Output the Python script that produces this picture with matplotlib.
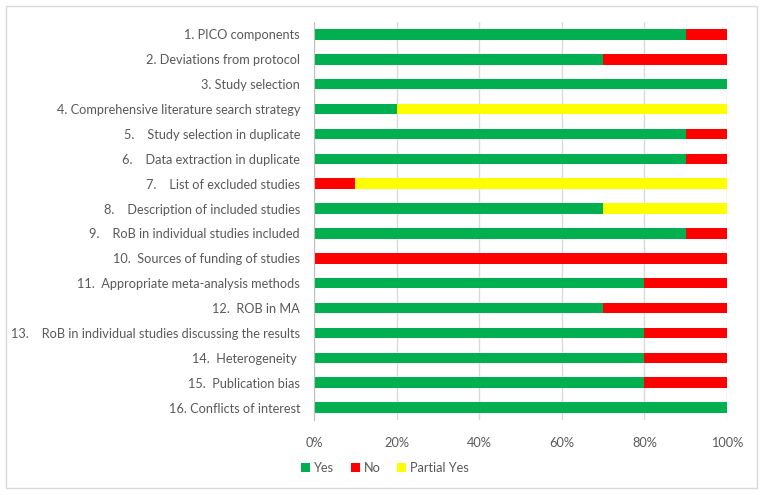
import matplotlib.pyplot as plt
import numpy as np
from matplotlib.patches import Rectangle

plt.rcParams['font.family'] = ['Lato', 'DejaVu Sans']

items = [
    '1. PICO components',
    '2. Deviations from protocol',
    '3. Study selection',
    '4. Comprehensive literature search strategy',
    '5.    Study selection in duplicate',
    '6.    Data extraction in duplicate',
    '7.    List of excluded studies',
    '8.    Description of included studies',
    '9.    RoB in individual studies included',
    '10.  Sources of funding of studies',
    '11.  Appropriate meta-analysis methods',
    '12.  ROB in MA',
    '13.    RoB in individual studies discussing the results',
    '14.  Heterogeneity ',
    '15.  Publication bias',
    '16. Conflicts of interest',
]
yes = [90, 70, 100, 20, 90, 90, 0, 70, 90, 0, 80, 70, 80, 80, 80, 100]
no = [10, 30, 0, 0, 10, 10, 10, 0, 10, 100, 20, 30, 20, 20, 20, 0]
partial = [0, 0, 0, 80, 0, 0, 90, 30, 0, 0, 0, 0, 0, 0, 0, 0]

GREEN = '#00B050'
RED = '#FF0000'
YELLOW = '#FFFF00'
TXT = '#595959'
FS = 9.2

fig = plt.figure(figsize=(7.65, 4.95), dpi=100)
ax = fig.add_axes([314 / 765, 1 - 420 / 495, (727 - 314) / 765, (420 - 22) / 495])

y = np.arange(len(items))
yes = np.array(yes)
no = np.array(no)
partial = np.array(partial)
h = 0.42
ax.barh(y, yes, height=h, color=GREEN, label='Yes', zorder=3)
ax.barh(y, no, left=yes, height=h, color=RED, label='No', zorder=3)
ax.barh(y, partial, left=yes + no, height=h, color=YELLOW, label='Partial Yes', zorder=3)

ax.set_ylim(len(items) - 0.5, -0.5)
ax.set_xlim(0, 100)
ax.set_yticks(y)
ax.set_yticklabels(items, fontsize=FS, color=TXT)
ax.set_xticks(np.arange(0, 101, 20))
ax.set_xticklabels([f'{v}%' for v in range(0, 101, 20)], fontsize=FS, color=TXT)
ax.tick_params(axis='both', length=0)
ax.tick_params(axis='y', pad=10)
ax.tick_params(axis='x', pad=12)
ax.grid(axis='x', color='#D9D9D9', linewidth=1, zorder=0)
for s in ['top', 'right', 'bottom']:
    ax.spines[s].set_visible(False)
ax.spines['left'].set_color('#BFBFBF')
ax.spines['left'].set_zorder(4)

fig.legend(loc='center', bbox_to_anchor=(385 / 765, 1 - 468 / 495), ncol=3, frameon=False,
           fontsize=FS, handlelength=0.7, handleheight=0.7, handletextpad=0.3,
           columnspacing=1.3, labelcolor=TXT)

fig.patches.append(Rectangle((6 / 765, 7 / 495), 751 / 765, 482 / 495, transform=fig.transFigure,
                             fill=False, edgecolor='#D9D9D9', linewidth=1))

fig.savefig('out.png', dpi=100)
